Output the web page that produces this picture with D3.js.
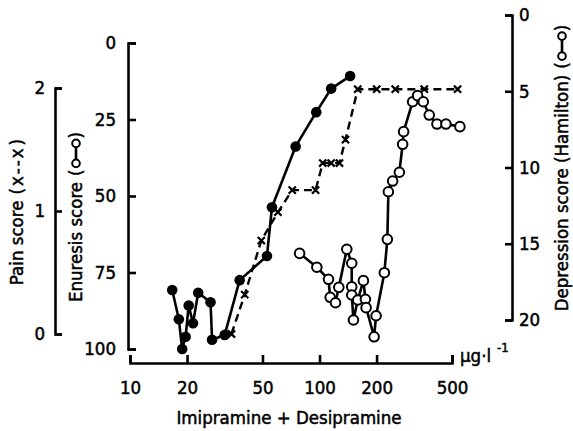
<!DOCTYPE html>
<html><head><meta charset="utf-8">
<script src="https://cdn.jsdelivr.net/npm/d3@7"></script>
<style>body{margin:0;background:#fff}svg{display:block}text{font-family:"DejaVu Sans Condensed","DejaVu Sans",sans-serif;fill:#000;stroke:#000;stroke-width:0.5px}</style>
</head><body>
<script>
// Enuresis (filled dots), x in µg/l, y enuresis score
const enurConc = [16.7,18.1,18.85,19.65,20.4,21.5,22.9,26.6,27.1,31.6,37.9,52.8,56.1,74.8,96.1,115.2,145];
const enurScore = [80.7,90.3,100,96,85.8,91.6,81.6,84.7,97,95.4,77.5,69.6,53.7,33.8,22.6,14.9,10.8];
// Pain score (x--x)
const painConc = [34.3,40.3,49.3,60.3,71.8,95.3,104,115.2,127.4,137.1,159.1,200.3,251,357,535];
const painScore = [0,0.32,0.76,0.99,1.17,1.17,1.39,1.39,1.39,1.58,1.99,1.99,1.99,1.99,1.99];
// Depression score (Hamilton) (o-o)
const depConc = [78.5,96.8,111.5,113.8,121.4,126.4,139.3,147.9,147.9,147.9,151,159.1,170.4,174.6,176.1,194.1,198.8,219.8,228,230.8,243.1,263.7,274.5,277.8,309.8,329.1,352.7,379.3,416.5,464.5,550.3];
const depScore = [15.63,16.54,17.33,18.51,18.87,17.86,15.36,16.28,17.82,18.36,20.0,18.69,17.42,18.64,19.19,21.1,19.72,16.9,14.71,11.59,10.89,10.31,8.48,7.65,5.69,5.29,5.69,6.56,7.15,7.15,7.32];
// Tick labels
const xTicks = [10,20,50,100,200,500];
const enurTicks = [0,25,50,75,100];
const painTicks = [0,1,2];
const depTicks = [0,5,10,15,20];

const W=573,H=431;
const svg=d3.select("body").append("svg").attr("width",W).attr("height",H);
const x=d3.scaleLog().domain([10,500]).range([130,452]);
const yE=d3.scaleLinear().domain([0,100]).range([43,349]);
const yP=d3.scaleLinear().domain([0,2]).range([334,88]);
const yD=d3.scaleLinear().domain([0,20]).range([15,320]);
const FS=18.5, SW=2.6;

function styleAxis(g){
  g.select(".domain").attr("stroke","#000").attr("stroke-width",SW);
  g.selectAll(".tick line").attr("stroke","#000").attr("stroke-width",SW);
  g.selectAll(".tick text").attr("font-size",FS).attr("font-family",'"DejaVu Sans Condensed",sans-serif');
}
// X axis
const gx=svg.append("g").attr("transform","translate(0,363)")
  .call(d3.axisTop(x).tickValues(xTicks).tickFormat(d3.format("d")).tickSizeInner(8).tickSizeOuter(8));
styleAxis(gx);
gx.selectAll(".tick text").attr("y",18).attr("dy","0.71em");
svg.append("text").attr("x",460).attr("y",362).attr("font-size",FS).text("µg·l");
svg.append("text").attr("x",497).attr("y",352).attr("font-size",13).text("-1");
svg.append("text").attr("x",289).attr("y",424).attr("text-anchor","middle").attr("font-size",FS).text("Imipramine + Desipramine");

// Enuresis axis
const gE=svg.append("g").attr("transform","translate(128,0)")
  .call(d3.axisRight(yE).tickValues(enurTicks).tickSizeInner(8).tickSizeOuter(8));
styleAxis(gE);
gE.selectAll(".tick text").attr("x",-12).attr("text-anchor","end");
// Pain axis
const gP=svg.append("g").attr("transform","translate(55,0)")
  .call(d3.axisRight(yP).tickValues(painTicks).tickFormat(d3.format("d")).tickSizeInner(7).tickSizeOuter(7));
styleAxis(gP);
gP.selectAll(".tick text").attr("x",-10).attr("text-anchor","end");
// Depression axis
const gD=svg.append("g").attr("transform","translate(512,0)")
  .call(d3.axisLeft(yD).tickValues(depTicks).tickSizeInner(7).tickSizeOuter(7));
styleAxis(gD);
gD.selectAll(".tick text").attr("x",7).attr("text-anchor","start");

// rotated titles
function rotTitle(cx,cy,label,sym){
  const g=svg.append("g").attr("transform",`translate(${cx},${cy}) rotate(-90)`);
  const t=g.append("text").attr("font-size",FS).attr("dy","0.35em").text(label);
  const L=t.node().getComputedTextLength();
  const p1=g.append("text").attr("font-size",FS).attr("dy","0.35em").attr("x",L+6).text("(");
  const pl=p1.node().getComputedTextLength();
  const sx=L+6+pl+2;
  let sw;
  if(sym==="o"){
    g.append("line").attr("x1",sx+4).attr("x2",sx+24).attr("y1",0).attr("y2",0).attr("stroke","#000").attr("stroke-width",2.6);
    [sx+4,sx+24].forEach(v=>g.append("circle").attr("cx",v).attr("cy",0).attr("r",3.8).attr("fill","#fff").attr("stroke","#000").attr("stroke-width",2));
    sw=28;
  } else {
    const st=g.append("text").attr("font-size",FS).attr("x",sx).attr("dy","0.35em").attr("letter-spacing",2).text("x--x");
    sw=st.node().getComputedTextLength();
  }
  g.append("text").attr("font-size",FS).attr("dy","0.35em").attr("x",sx+sw+1).text(")");
  const total=sx+sw+1+pl;
  const off=-total/2;
  g.selectAll("text").each(function(){const e=d3.select(this);e.attr("x",(+e.attr("x")||0)+off);});
  g.selectAll("line").each(function(){const e=d3.select(this);e.attr("x1",+e.attr("x1")+off).attr("x2",+e.attr("x2")+off);});
  g.selectAll("circle").each(function(){const e=d3.select(this);e.attr("cx",+e.attr("cx")+off);});
}
rotTitle(17,212,"Pain score","x");
rotTitle(76,217,"Enuresis score","o");
rotTitle(562,168,"Depression score (Hamilton)","o");

// Enuresis series
const eData=enurConc.map((c,i)=>[c,enurScore[i]]);
svg.append("path").datum(eData).attr("fill","none").attr("stroke","#000").attr("stroke-width",SW).attr("stroke-linejoin","round")
  .attr("d",d3.line().x(d=>x(d[0])).y(d=>yE(d[1])));
svg.selectAll(".fdot").data(eData).join("circle").attr("cx",d=>x(d[0])).attr("cy",d=>yE(d[1])).attr("r",5.3).attr("fill","#000");

// Pain series
const pData=painConc.map((c,i)=>[c,painScore[i]]);
svg.append("path").datum(pData).attr("fill","none").attr("stroke","#000").attr("stroke-width",2.4).attr("stroke-dasharray","8,5")
  .attr("d",d3.line().x(d=>x(d[0])).y(d=>yP(d[1])));
svg.selectAll(".xm").data(pData).join("path")
  .attr("d",d=>{const cx=x(d[0]),cy=yP(d[1]),s=3.6;return `M${cx-s},${cy-s}L${cx+s},${cy+s}M${cx-s},${cy+s}L${cx+s},${cy-s}`;})
  .attr("stroke","#000").attr("stroke-width",2.2).attr("fill","none");

// Depression series
const dData=depConc.map((c,i)=>[c,depScore[i]]);
svg.append("path").datum(dData).attr("fill","none").attr("stroke","#000").attr("stroke-width",SW).attr("stroke-linejoin","round")
  .attr("d",d3.line().x(d=>x(d[0])).y(d=>yD(d[1])));
svg.selectAll(".odot").data(dData).join("circle").attr("cx",d=>x(d[0])).attr("cy",d=>yD(d[1])).attr("r",4.8)
  .attr("fill","#fff").attr("stroke","#000").attr("stroke-width",2);
</script>
</body></html>
